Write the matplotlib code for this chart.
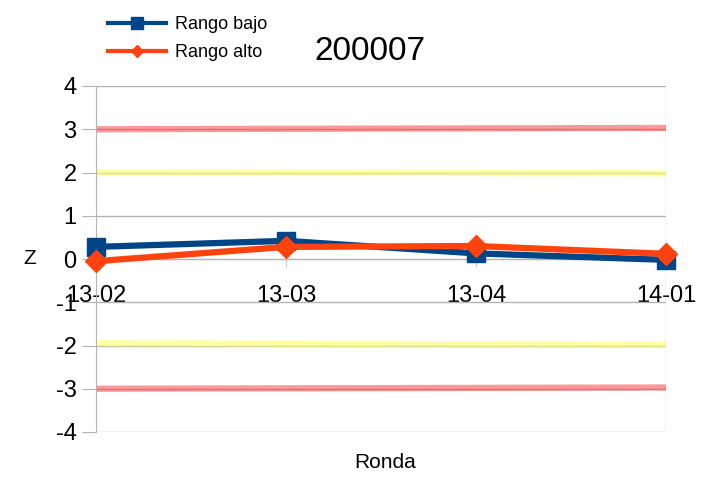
import matplotlib
matplotlib.use('Agg')
import matplotlib.pyplot as plt
from matplotlib.lines import Line2D

plt.rcParams['font.family'] = ['Liberation Sans', 'DejaVu Sans']
plt.rcParams['axes.unicode_minus'] = False

# datos
rondas = ['13-02', '13-03', '13-04', '14-01']
rango_bajo = [0.28, 0.42, 0.13, -0.02]
rango_alto = [-0.05, 0.28, 0.30, 0.12]
# limites de control (ligeramente inclinados como en el original)
lim_rojo_sup = [3.0, 3.03]
lim_amar_sup = [2.0, 1.98]
lim_amar_inf = [-1.95, -1.98]
lim_rojo_inf = [-3.0, -2.97]

fig = plt.figure(figsize=(7.11, 4.79), dpi=100)
ax = fig.add_axes([96/711, 1 - 432/479, 570/711, 346/479])

x = list(range(len(rondas)))
xe = [x[0], x[-1]]

# lineas de referencia
ax.plot(xe, lim_rojo_sup, color='#ff3333', alpha=0.5, linewidth=4.5, solid_capstyle='butt', zorder=2)
ax.plot(xe, lim_rojo_inf, color='#ff3333', alpha=0.5, linewidth=4.5, solid_capstyle='butt', zorder=2)
ax.plot(xe, lim_amar_sup, color='#ffff66', alpha=0.6, linewidth=4.5, solid_capstyle='butt', zorder=2)
ax.plot(xe, lim_amar_inf, color='#ffff66', alpha=0.6, linewidth=4.5, solid_capstyle='butt', zorder=2)

# series
ax.plot(x, rango_bajo, color='#004586', linewidth=4.5, marker='s', markersize=13,
        label='Rango bajo', zorder=4, clip_on=False)
ax.plot(x, rango_alto, color='#ff420e', linewidth=4.5, marker='D', markersize=11,
        label='Rango alto', zorder=5, clip_on=False)

ax.set_xlim(0, 3)
ax.set_ylim(-4, 4)
ax.set_yticks(range(-4, 5))
ax.set_xticks(x)
ax.set_xticklabels(rondas)

ax.grid(True, axis='y', color='#b3b3b3', linewidth=1, zorder=1)
ax.axvline(x[-1], color='#c8c8c8', linewidth=1, zorder=1)
ax.set_axisbelow(True)

for s in ['top', 'right']:
    ax.spines[s].set_visible(False)
ax.spines['left'].set_color('#b3b3b3')
ax.spines['bottom'].set_color('#b3b3b3')
ax.spines['bottom'].set_position(('data', 0))

ax.tick_params(axis='y', colors='#b3b3b3', labelcolor='black', labelsize=17,
               length=10, direction='out', pad=4)
ax.tick_params(axis='x', colors='#c8c8c8', labelcolor='black', labelsize=17,
               length=12, direction='inout', pad=13)

fig.text(30/711, 1 - 259/479, 'Z', fontsize=15, ha='center', va='center')
fig.text(385/711, 1 - 462/479, 'Ronda', fontsize=15, ha='center', va='center')
fig.text(370/711, 1 - 51/479, '200007', fontsize=24, ha='center', va='center')

handles = [
    Line2D([], [], color='#004586', linewidth=3, marker='s', markersize=8),
    Line2D([], [], color='#ff420e', linewidth=3, marker='D', markersize=6),
]
fig.legend(handles, ['Rango bajo', 'Rango alto'], loc='upper left',
           bbox_to_anchor=(108/711, 1 - 16/479), frameon=False, fontsize=13,
           handlelength=3.2, handletextpad=0.5, labelspacing=0.6, borderaxespad=0,
           borderpad=0)

fig.savefig('out.png', dpi=100)
